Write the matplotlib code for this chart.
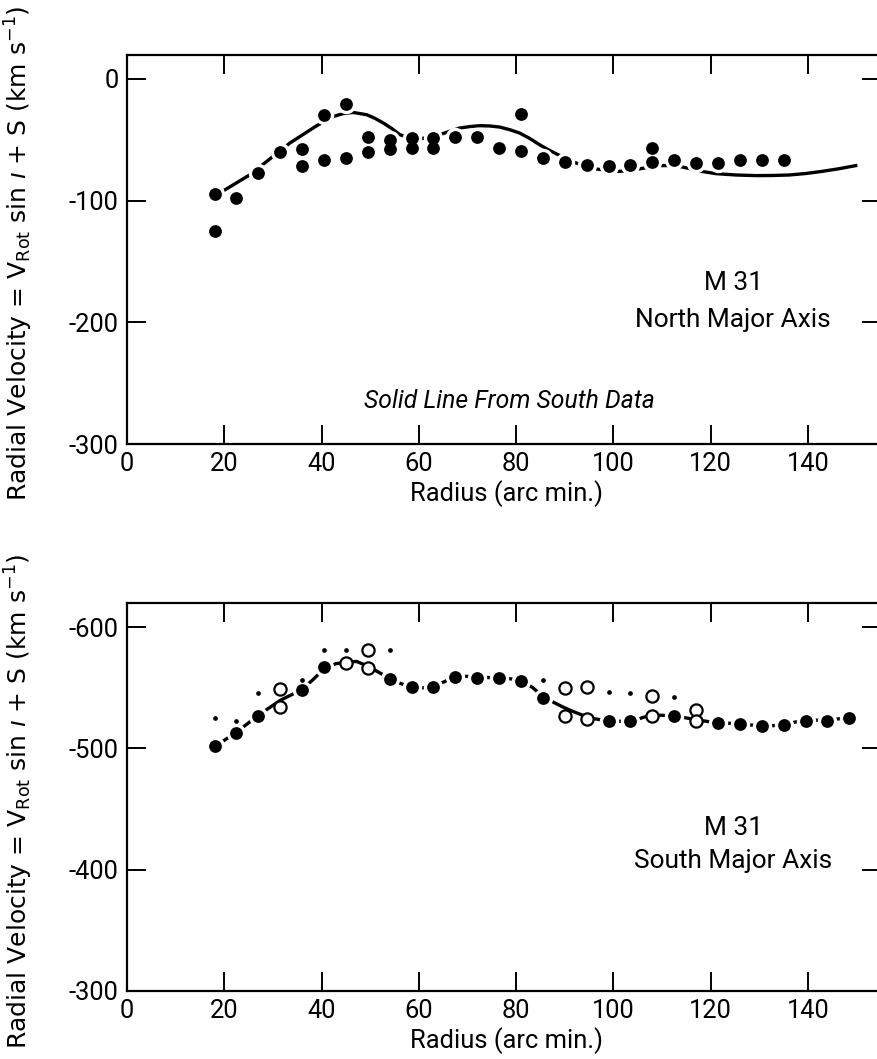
import matplotlib
matplotlib.use("Agg")
import matplotlib.pyplot as plt
from matplotlib import font_manager

plt.rcParams['axes.unicode_minus'] = False

# ---- North major axis (top panel) ----
north_r = [18, 18, 22.5, 27, 31.5, 36, 36, 40.5, 40.5, 45, 45, 49.5, 49.5, 54, 54,
           58.5, 58.5, 63, 63, 67.5, 72, 76.5, 81, 81, 85.5, 90, 94.5, 99, 103.5,
           108, 108, 112.5, 117, 121.5, 126, 130.5, 135]
north_v = [-95, -125, -97.5, -77, -60, -58, -72, -29.5, -67, -21, -65, -48, -60, -50, -58,
           -49, -57, -49, -57, -48, -48, -56.5, -29, -59, -65, -68.5, -71, -72, -71,
           -57, -68.5, -67, -69, -69.5, -66.5, -66.5, -66.5]

# south curve replotted on the north panel
north_line_r = [18.2, 25.3, 33.5, 39, 42.4, 44.5, 46.5, 49.3, 51, 52.7, 54.5, 56.1, 58.8, 60.2,
                62.2, 64.3, 66.4, 68.4, 70.5, 72.5, 74.5, 76.6, 78.7, 80.7, 82.8, 84.8, 86.5,
                88.2, 90.3, 92.3, 94.4, 96.4, 98.8, 101.2, 103.3, 105.3, 107.4, 109.4, 111.5,
                113.5, 115.3, 117, 119, 121.1, 125.2, 129.3, 132.7, 136.1, 139.5, 142.9,
                146.3, 149.8]
north_line_v = [-95.9, -78.7, -52.7, -38.5, -30.9, -28.5, -27.6, -29.5, -32.5, -36.3, -41, -45.9,
                -49.4, -49.4, -47.8, -45.9, -43, -40.4, -39.2, -38.5, -38.7, -39.6, -41.8, -44.5,
                -49, -54.1, -58, -61.5, -65.5, -69.1, -71.8, -74, -75.3, -76, -75.4, -74, -72.5,
                -71.3, -71.2, -71.9, -73.4, -75.1, -76.6, -77.9, -79, -79.5, -79.4, -79, -77.8,
                -76, -73.9, -71.3]

# ---- South major axis (bottom panel) ----
south_fill_r = [18, 22.5, 27, 36, 40.5, 54, 58.5, 63, 67.5, 72, 76.5, 81, 85.5, 99, 103.5,
                112.5, 121.5, 126, 130.5, 135, 139.5, 144, 148.5]
south_fill_v = [-502, -513, -527, -548, -567, -557, -551, -551, -559, -558, -558, -556, -542, -523, -523,
                -526.5, -521, -520.5, -518.5, -519, -523, -523, -525.5]

south_open_r = [31.5, 31.5, 45, 49.5, 49.5, 90, 90, 94.5, 94.5, 108, 108, 117, 117]
south_open_v = [-549, -534, -570.5, -581.5, -566, -550, -526.5, -551, -524.5, -543, -526.5, -531.5, -522.5]

south_small_r = [18, 22.5, 27, 36, 40.5, 45, 54, 85.5, 99, 103.5, 112.5]
south_small_v = [-525.5, -523, -545.5, -556.5, -581.5, -581.5, -581.5, -556.5, -546.5, -545.5, -542.5]

south_line_r = [18.2, 22.6, 27, 31.5, 35.9, 38.3, 40.7, 43, 45.2, 47.2, 49.6, 51.9, 54.1, 56.3,
                58.5, 60.7, 62.9, 65.2, 67.6, 69.8, 72, 74.3, 76.5, 78.8, 81.1, 83.3, 85.5,
                87.5, 89.6, 91.7, 93.7, 96.2, 98.7, 100.9, 103.1, 105.3, 107.4, 110, 112.3,
                114.5, 116.8, 119, 121.4, 123.6, 125.7, 128, 130.3, 132.5, 134.6, 137, 139.3,
                141.5, 143.8, 146, 148.3]
south_line_v = [-501.9, -513.7, -527.4, -539.7, -548.5, -557, -566.6, -570, -571.2, -571.8, -567.7,
                -562.5, -557.6, -553.5, -550.7, -550, -551.2, -555, -559.5, -559.5, -558.9, -558.5,
                -558.3, -557.5, -555.6, -550.5, -543, -538.5, -534.2, -530.5, -527.4, -524.5,
                -522.7, -522.4, -522.7, -524.5, -527.4, -527.4, -526.6, -525.5, -524, -522.5,
                -521.1, -520.8, -520.5, -519.5, -518.6, -518.8, -519.2, -521.5, -523.3, -523.3,
                -523.3, -524.3, -525.5]

x_ticks = [0, 20, 40, 60, 80, 100, 120, 140]
north_yticks = [0, -100, -200, -300]
south_yticks = [-600, -500, -400, -300]

# narrow face for numbers and labels (the original uses a condensed type)
names = {f.name for f in font_manager.fontManager.ttflist}
if 'Liberation Sans Narrow' in names:
    narrow = ['Liberation Sans Narrow', 'DejaVu Sans']
else:
    narrow = ['Roboto', 'DejaVu Sans']
nscale = 1.08

ylab = r'Radial Velocity = V$_{\mathrm{Rot}}$ sin $\imath$ + S (km s$^{-1}$)'

fig = plt.figure(figsize=(8.77, 10.59), dpi=100)
W, H = 877.0, 1059.0
ax1 = fig.add_axes([127 / W, 1 - 444 / H, (881 - 127) / W, (444 - 54.5) / H])
ax2 = fig.add_axes([127 / W, 1 - 991 / H, (881 - 127) / W, (991 - 603) / H])


def style(ax, yticks):
    ax.set_xlim(0, 155)
    ax.set_xticks(x_ticks)
    ax.set_xticklabels([str(t) for t in x_ticks])
    ax.set_yticks(yticks)
    ax.set_yticklabels([str(t) for t in yticks])
    ax.tick_params(direction='in', length=14, width=1.4, top=True, right=True,
                   labelsize=17 * nscale, pad=6)
    for lab in ax.get_xticklabels() + ax.get_yticklabels():
        lab.set_family(narrow)
    for s in ax.spines.values():
        s.set_linewidth(1.6)
    ax.text(0.503, -0.128, 'Radius (arc min.)', transform=ax.transAxes, ha='center',
            va='center', fontsize=17 * nscale, family=narrow)
    ax.text(-0.143, 0.49, ylab, transform=ax.transAxes, rotation=90, ha='center',
            va='center', fontsize=18)


# top panel
ax1.plot(north_line_r, north_line_v, color='black', lw=2.4, zorder=2)
ax1.plot(north_r, north_v, 'o', color='white', ms=14, mew=0, zorder=3)
ax1.plot(north_r, north_v, 'o', color='black', ms=9.2, mew=0, zorder=4)
ax1.set_ylim(-300, 20)
style(ax1, north_yticks)
ax1.text(0.804, 0.413, 'M 31', transform=ax1.transAxes, ha='center', va='center',
         fontsize=17.5 * nscale, family=narrow)
ax1.text(0.804, 0.318, 'North Major Axis', transform=ax1.transAxes, ha='center',
         va='center', fontsize=17.5 * nscale, family=narrow)
ax1.text(0.507, 0.11, 'Solid Line From South Data', transform=ax1.transAxes,
         ha='center', va='center', fontsize=16.5 * nscale, style='italic', family=narrow)

# bottom panel
ax2.plot(south_line_r, south_line_v, color='black', lw=2.4, zorder=2)
ax2.plot(south_fill_r, south_fill_v, 'o', color='white', ms=14, mew=0, zorder=3)
ax2.plot(south_fill_r, south_fill_v, 'o', color='black', ms=9.2, mew=0, zorder=4)
ax2.plot(south_open_r, south_open_v, 'o', mfc='white', mec='black', ms=8.8, mew=1.6, zorder=4)
ax2.plot(south_small_r, south_small_v, 'o', color='black', ms=3.4, mew=0, zorder=4)
ax2.set_ylim(-300, -620)
style(ax2, south_yticks)
ax2.text(0.804, 0.42, 'M 31', transform=ax2.transAxes, ha='center', va='center',
         fontsize=17.5 * nscale, family=narrow)
ax2.text(0.804, 0.335, 'South Major Axis', transform=ax2.transAxes, ha='center',
         va='center', fontsize=17.5 * nscale, family=narrow)

fig.savefig('out.png', dpi=100)
